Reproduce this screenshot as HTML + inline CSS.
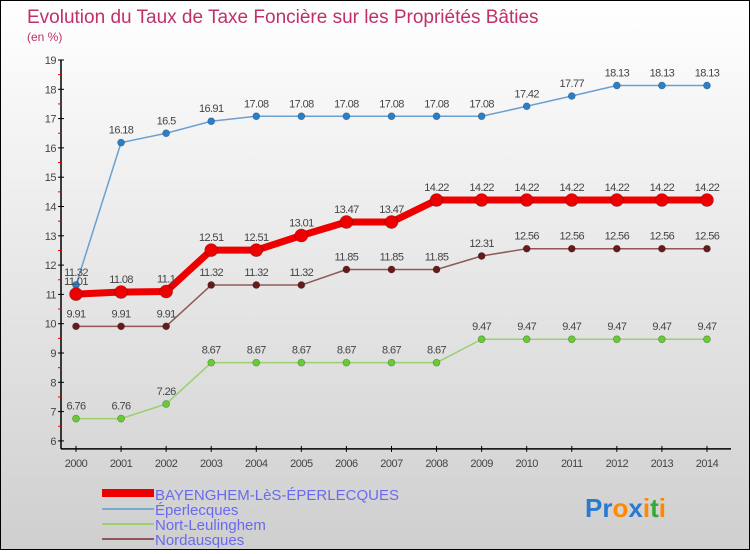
<!DOCTYPE html>
<html><head><meta charset="utf-8"><style>
html,body{margin:0;padding:0}
body{width:750px;height:550px;overflow:hidden;font-family:"Liberation Sans",sans-serif}
#wrap{position:relative;width:748px;height:548px;border:1px solid #000;background:linear-gradient(#ffffff,#cfcfcf)}
</style></head><body>
<div id="wrap">
<svg id="chart" width="748" height="548">
<text x="26" y="22" font-size="19" fill="#c0306a">Evolution du Taux de Taxe Foncière sur les Propriétés Bâties</text>
<text x="26" y="40" font-size="12" fill="#c0306a">(en %)</text>
<g id="axes"></g><g id="series"></g>
<g>
<rect x="101" y="488" width="52" height="8" fill="#ee0000"/>
<text x="154" y="499" font-size="15" fill="#6a6aee">BAYENGHEM-LèS-ÉPERLECQUES</text>
<rect x="101" y="507" width="52" height="2" fill="#7aaad0"/>
<text x="154" y="514" font-size="15" fill="#6a6aee">Éperlecques</text>
<rect x="101" y="522" width="52" height="2" fill="#9ad070"/>
<text x="154" y="529" font-size="15" fill="#6a6aee">Nort-Leulinghem</text>
<rect x="101" y="537" width="52" height="2" fill="#905858"/>
<text x="154" y="544" font-size="15" fill="#6a6aee">Nordausques</text>
</g>
<text x="584" y="516" font-size="26" font-weight="bold"><tspan fill="#2a7ad0">Pr</tspan><tspan fill="#ff8800">o</tspan><tspan fill="#2a7ad0">x</tspan><tspan fill="#ff8800">i</tspan><tspan fill="#33aa33">t</tspan><tspan fill="#ff8800">i</tspan></text>
</svg></div>
<script>
const years=[2000,2001,2002,2003,2004,2005,2006,2007,2008,2009,2010,2011,2012,2013,2014];
const bayenghem=[11.01,11.08,11.1,12.51,12.51,13.01,13.47,13.47,14.22,14.22,14.22,14.22,14.22,14.22,14.22];
const eperlecques=[11.32,16.18,16.5,16.91,17.08,17.08,17.08,17.08,17.08,17.08,17.42,17.77,18.13,18.13,18.13];
const nort=[6.76,6.76,7.26,8.67,8.67,8.67,8.67,8.67,8.67,9.47,9.47,9.47,9.47,9.47,9.47];
const nordausques=[9.91,9.91,9.91,11.32,11.32,11.32,11.85,11.85,11.85,12.31,12.56,12.56,12.56,12.56,12.56];
const yTicks=[6,7,8,9,10,11,12,13,14,15,16,17,18,19];
const NS="http://www.w3.org/2000/svg";
function xs(i){return 75+i*45.07;}
function ys(v){return 59+(19-v)*29.3;}
function mk(t,a,p){const e=document.createElementNS(NS,t);for(const k in a)e.setAttribute(k,a[k]);p.appendChild(e);return e;}
const ax=document.getElementById('axes');
let l=mk('line',{x1:60,y1:ys(19),x2:60,y2:ys(6)+8,stroke:'#000','stroke-width':1.5},ax);


l=mk('line',{x1:60,y1:ys(6)+8,x2:730,y2:ys(6)+8,stroke:'#000','stroke-width':1.5},ax);


yTicks.forEach(v=>{
 mk('line',{x1:57,x2:63,y1:ys(v),y2:ys(v),stroke:'#000'},ax);
 if(v<19)mk('line',{x1:57,x2:60,y1:ys(v+0.5),y2:ys(v+0.5),stroke:'#e00'},ax);
 const t=mk('text',{x:55,y:ys(v)+4,'font-size':11,fill:'#444','text-anchor':'end','letter-spacing':'-0.5'},ax);
 t.textContent=v;
 
 
});
years.forEach((y,i)=>{
 mk('line',{x1:xs(i),x2:xs(i),y1:ys(6)+5,y2:ys(6)+11,stroke:'#000'},ax);
 const t=mk('text',{x:xs(i),y:466,'font-size':11,fill:'#444','text-anchor':'middle','letter-spacing':'-0.5'},ax);
 t.textContent=y;
 
 
});
const sg=document.getElementById('series');
function draw(vals,color,dot,w,r,name){
 const g=mk('g',{},sg);
 
 
 const pl=mk('polyline',{points:vals.map((v,i)=>xs(i)+','+ys(v)).join(' '),fill:'none',stroke:color,'stroke-width':w,'stroke-linejoin':'round'},g);
 
 
 vals.forEach((v,i)=>{
  const c=mk('circle',{cx:xs(i),cy:ys(v),r:r,fill:dot,stroke:'rgba(0,0,0,0.3)','stroke-width':0.7},g);
  
  
  const t=mk('text',{x:xs(i),y:ys(v)-9,'font-size':11,fill:'#444','text-anchor':'middle','letter-spacing':'-0.6'},g);
  t.textContent=v;
  
  
 });
}
draw(nort,'#9ad070','#66cc33',1.5,3.5,'nort-leulinghem');
draw(nordausques,'#905858','#661a1a',1.5,3.5,'nordausques');
draw(eperlecques,'#6aa0d0','#2a80c8',1.5,3.5,'eperlecques');
draw(bayenghem,'#ee0000','#ee0000',7,6.5,'bayenghem');
</script>
</body></html>
